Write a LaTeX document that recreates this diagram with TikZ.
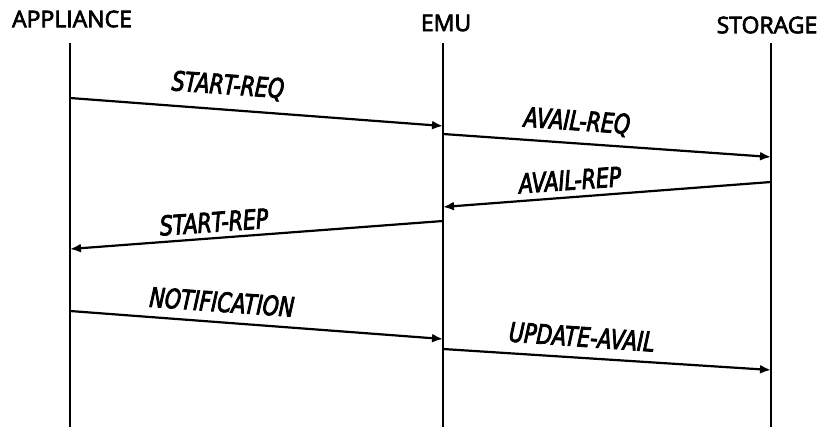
\documentclass[tikz,border=0pt]{standalone}
\usepackage{fontspec}
\setmainfont{Open Sans}
\newfontfamily\headfont{Open Sans}
\newfontfamily\lblfont{DejaVu Sans}[FakeStretch=0.76]
\newcommand\heavytxt[2]{\special{pdf:literal direct 2 Tr #1 w}#2\special{pdf:literal direct 0 Tr}}
\usetikzlibrary{arrows.meta}
\tikzset{
  head/.style={font=\headfont\fontsize{23}{23}\selectfont, inner sep=0pt, anchor=center},
  life/.style={line width=2.4pt},
  msg/.style={line width=2.2pt, -{Latex[length=11pt,width=9pt]}},
  lbl/.style={font=\lblfont\itshape\fontsize{27}{27}\selectfont, inner sep=0pt, anchor=center}
}
\begin{document}
\begin{tikzpicture}[x=1pt,y=-1pt]
\useasboundingbox (0,0) rectangle (824,427);
% lifeline ends
\coordinate (appT) at (70,43);  \coordinate (appB) at (70,427);
\coordinate (emuT) at (443,43); \coordinate (emuB) at (443,427);
\coordinate (stoT) at (771,43); \coordinate (stoB) at (771,427);
\draw[life] (appT) -- (appB);
\draw[life] (emuT) -- (emuB);
\draw[life] (stoT) -- (stoB);
% message ends
\coordinate (m1a) at (70,98);   \coordinate (m1b) at (443,126);
\coordinate (m2a) at (443,134); \coordinate (m2b) at (771,157);
\coordinate (m3a) at (771,182); \coordinate (m3b) at (443,207);
\coordinate (m4a) at (443,221); \coordinate (m4b) at (70,249);
\coordinate (m5a) at (70,311);  \coordinate (m5b) at (443,339);
\coordinate (m6a) at (443,349); \coordinate (m6b) at (771,370);
\draw[msg] (m1a) -- (m1b);
\draw[msg] (m2a) -- (m2b);
\draw[msg] (m3a) -- (m3b);
\draw[msg] (m4a) -- (m4b);
\draw[msg] (m5a) -- (m5b);
\draw[msg] (m6a) -- (m6b);
% headers
\node[head] (app) at (72,19) {\heavytxt{0.7}{APPLIANCE}};
\node[head] (emu) at (446,23) {\heavytxt{0.7}{EMU}};
\node[head] (sto) at (767,25) {\heavytxt{0.7}{STORAGE}};
% labels
\node[lbl, rotate=-4] (l1) at (228,86) {\heavytxt{0.8}{START-REQ}};
\node[lbl, rotate=-4] (l2) at (577,122) {\heavytxt{0.8}{AVAIL-REQ}};
\node[lbl, rotate=4] (l3) at (570,180) {\heavytxt{0.8}{AVAIL-REP}};
\node[lbl, rotate=4] (l4) at (214,222) {\heavytxt{0.8}{START-REP}};
\node[lbl, rotate=-4] (l5) at (222,302) {\heavytxt{0.8}{NOTIFICATION}};
\node[lbl, rotate=-4] (l6) at (582,337) {\heavytxt{0.8}{UPDATE-AVAIL}};
\end{tikzpicture}
\end{document}
